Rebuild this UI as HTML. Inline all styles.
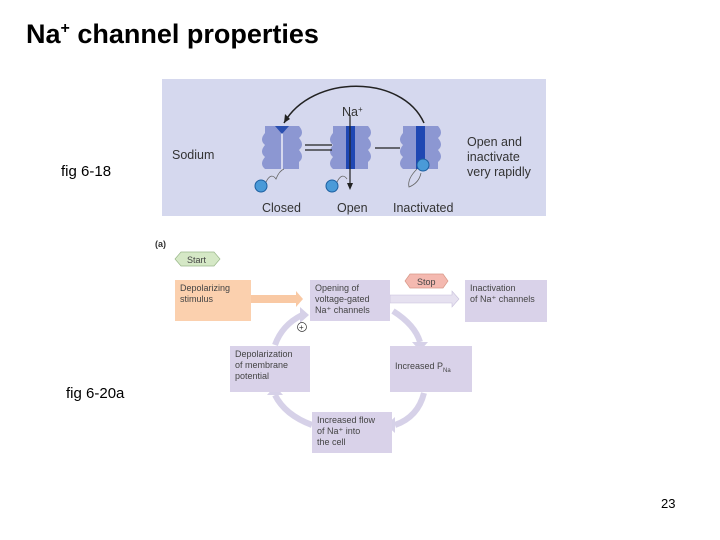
<!DOCTYPE html>
<html><head><meta charset="utf-8"><style>
body{margin:0;width:720px;height:540px;background:#fff;position:relative;overflow:hidden;font-family:"Liberation Sans",sans-serif}
.t{position:absolute;white-space:nowrap}
.b{position:absolute;background:#d9d2e9;box-sizing:border-box;font-size:9px;color:#444;padding:3px 5px;line-height:11px}
</style></head><body>
<div class="t" style="left:26px;top:19px;font-size:27px;font-weight:bold">Na<sup style="font-size:16px">+</sup> channel properties</div>
<div class="t" style="left:61px;top:163px;font-size:15px">fig 6-18</div>
<div class="t" style="left:66px;top:385px;font-size:15px">fig 6-20a</div>
<div class="t" style="left:661px;top:496px;font-size:13px">23</div>

<svg style="position:absolute;left:162px;top:79px" width="384" height="137">
<rect width="384" height="137" fill="#d5d8ee"/>
<g font-size="12.5" fill="#333" font-family="Liberation Sans">
<text x="10" y="80">Sodium</text>
<text x="305" y="67">Open and</text>
<text x="305" y="82">inactivate</text>
<text x="305" y="97">very rapidly</text>
<text x="100" y="133">Closed</text>
<text x="175" y="133">Open</text>
<text x="231" y="133">Inactivated</text>
<text x="180" y="37">Na<tspan font-size="8" dy="-4">+</tspan></text>
</g>
<path d="M262 44 C240 -5 150 -5 122 44" fill="none" stroke="#222" stroke-width="1.5"/>
<path d="M122 44 l1 -9 l5 5 z" fill="#222"/>
<g fill="#8c97d2">
<path d="M103 47 h16 v43 h-16 q-6 -5 0 -12 q-6 -5 0 -12 q-6-5 0-12z"/>
<path d="M121 47 h16 q6 7 0 12 q6 7 0 12 q6 7 0 12 v7 h-16z"/>
<path d="M171 47 h13 v43 h-13 q-6 -5 0 -12 q-6 -5 0 -12 q-6-5 0-12z"/>
<path d="M193 47 h13 q6 7 0 12 q6 7 0 12 q6 7 0 12 v7 h-13z"/>
<path d="M241 47 h13 v43 h-13 q-6 -5 0 -12 q-6 -5 0 -12 q-6-5 0-12z"/>
<path d="M263 47 h13 q6 7 0 12 q6 7 0 12 q6 7 0 12 v7 h-13z"/>
</g>
<path d="M113 47 h14 l-7 8z" fill="#2a4fb0"/>
<rect x="184" y="47" width="9" height="43" fill="#1f47b3"/>
<rect x="254" y="47" width="9" height="43" fill="#1f47b3"/>
<line x1="188" y1="36" x2="188" y2="108" stroke="#222" stroke-width="1.2"/>
<path d="M185 104 l3 7 l3 -7z" fill="#222"/>
<path d="M143 66 h27 M143 71 h27" stroke="#222" stroke-width="1.3"/>
<path d="M213 69 h25" stroke="#222" stroke-width="1.3"/>
<circle cx="99" cy="107" r="6" fill="#4a9ad8" stroke="#1d5fa0"/>
<circle cx="170" cy="107" r="6" fill="#4a9ad8" stroke="#1d5fa0"/>
<circle cx="261" cy="86" r="6" fill="#4a9ad8" stroke="#1d5fa0"/>
<path d="M104 103 q5 -10 10 -3 q3 -8 8 -10" fill="none" stroke="#666" stroke-width=".8"/>
<path d="M175 103 q5 -10 10 -3" fill="none" stroke="#666" stroke-width=".8"/>
<path d="M255 90 q-10 10 -8 18 q10 -4 12 -14" fill="none" stroke="#666" stroke-width=".8"/>
</svg>

<svg style="position:absolute;left:150px;top:235px" width="400" height="220">
<text x="5" y="12" font-size="9" font-weight="bold" fill="#333" font-family="Liberation Sans">(a)</text>
<path d="M25 24 l6 -7 h33 l6 7 l-6 7 h-33z" fill="#d5e8c6" stroke="#9ab88a" stroke-width=".7"/>
<text x="37" y="28" font-size="9" fill="#444" font-family="Liberation Sans">Start</text>
<path d="M255 46 l5 -7 h33 l5 7 l-5 7 h-33z" fill="#f4b9b0" stroke="#d89888" stroke-width=".7"/>
<text x="267" y="50" font-size="9" fill="#444" font-family="Liberation Sans">Stop</text>
<path d="M100 60 h46 v-4 l7 8 l-7 8 v-4 h-46z" fill="#f9c9a4"/>
<path d="M240 60 h62 v-4 l7 8 l-7 8 v-4 h-62z" fill="#e6e1f0" stroke="#c8c0dc" stroke-width=".6"/>
<g fill="none" stroke="#d6d1e8" stroke-width="6">
<path d="M243 76 Q265 90 270 107"/>
<path d="M274 158 Q268 182 245 190"/>
<path d="M162 190 Q135 180 125 160"/>
<path d="M125 110 Q132 90 152 80"/>
</g>
<g fill="#d6d1e8">
<path d="M262 107 h16 l-8 9z"/>
<path d="M245 182 v16 l-9 -8z"/>
<path d="M117 160 h16 l-8 -9z"/>
<path d="M150 72 v16 l9 -8z"/>
</g>
<circle cx="152" cy="92" r="4.5" fill="#fff" stroke="#333" stroke-width=".7"/>
<text x="149" y="95" font-size="8" fill="#333" font-family="Liberation Sans">+</text>
</svg>
<div class="b" style="left:175px;top:280px;width:76px;height:41px;background:#fbd0ae">Depolarizing<br>stimulus</div>
<div class="b" style="left:310px;top:280px;width:80px;height:41px">Opening of<br>voltage-gated<br>Na⁺ channels</div>
<div class="b" style="left:465px;top:280px;width:82px;height:42px">Inactivation<br>of Na⁺ channels</div>
<div class="b" style="left:230px;top:346px;width:80px;height:46px">Depolarization<br>of membrane<br>potential</div>
<div class="b" style="left:390px;top:346px;width:82px;height:46px;padding-top:15px">Increased P<sub style="font-size:6px">Na</sub></div>
<div class="b" style="left:312px;top:412px;width:80px;height:41px">Increased flow<br>of Na⁺ into<br>the cell</div>
</body></html>
